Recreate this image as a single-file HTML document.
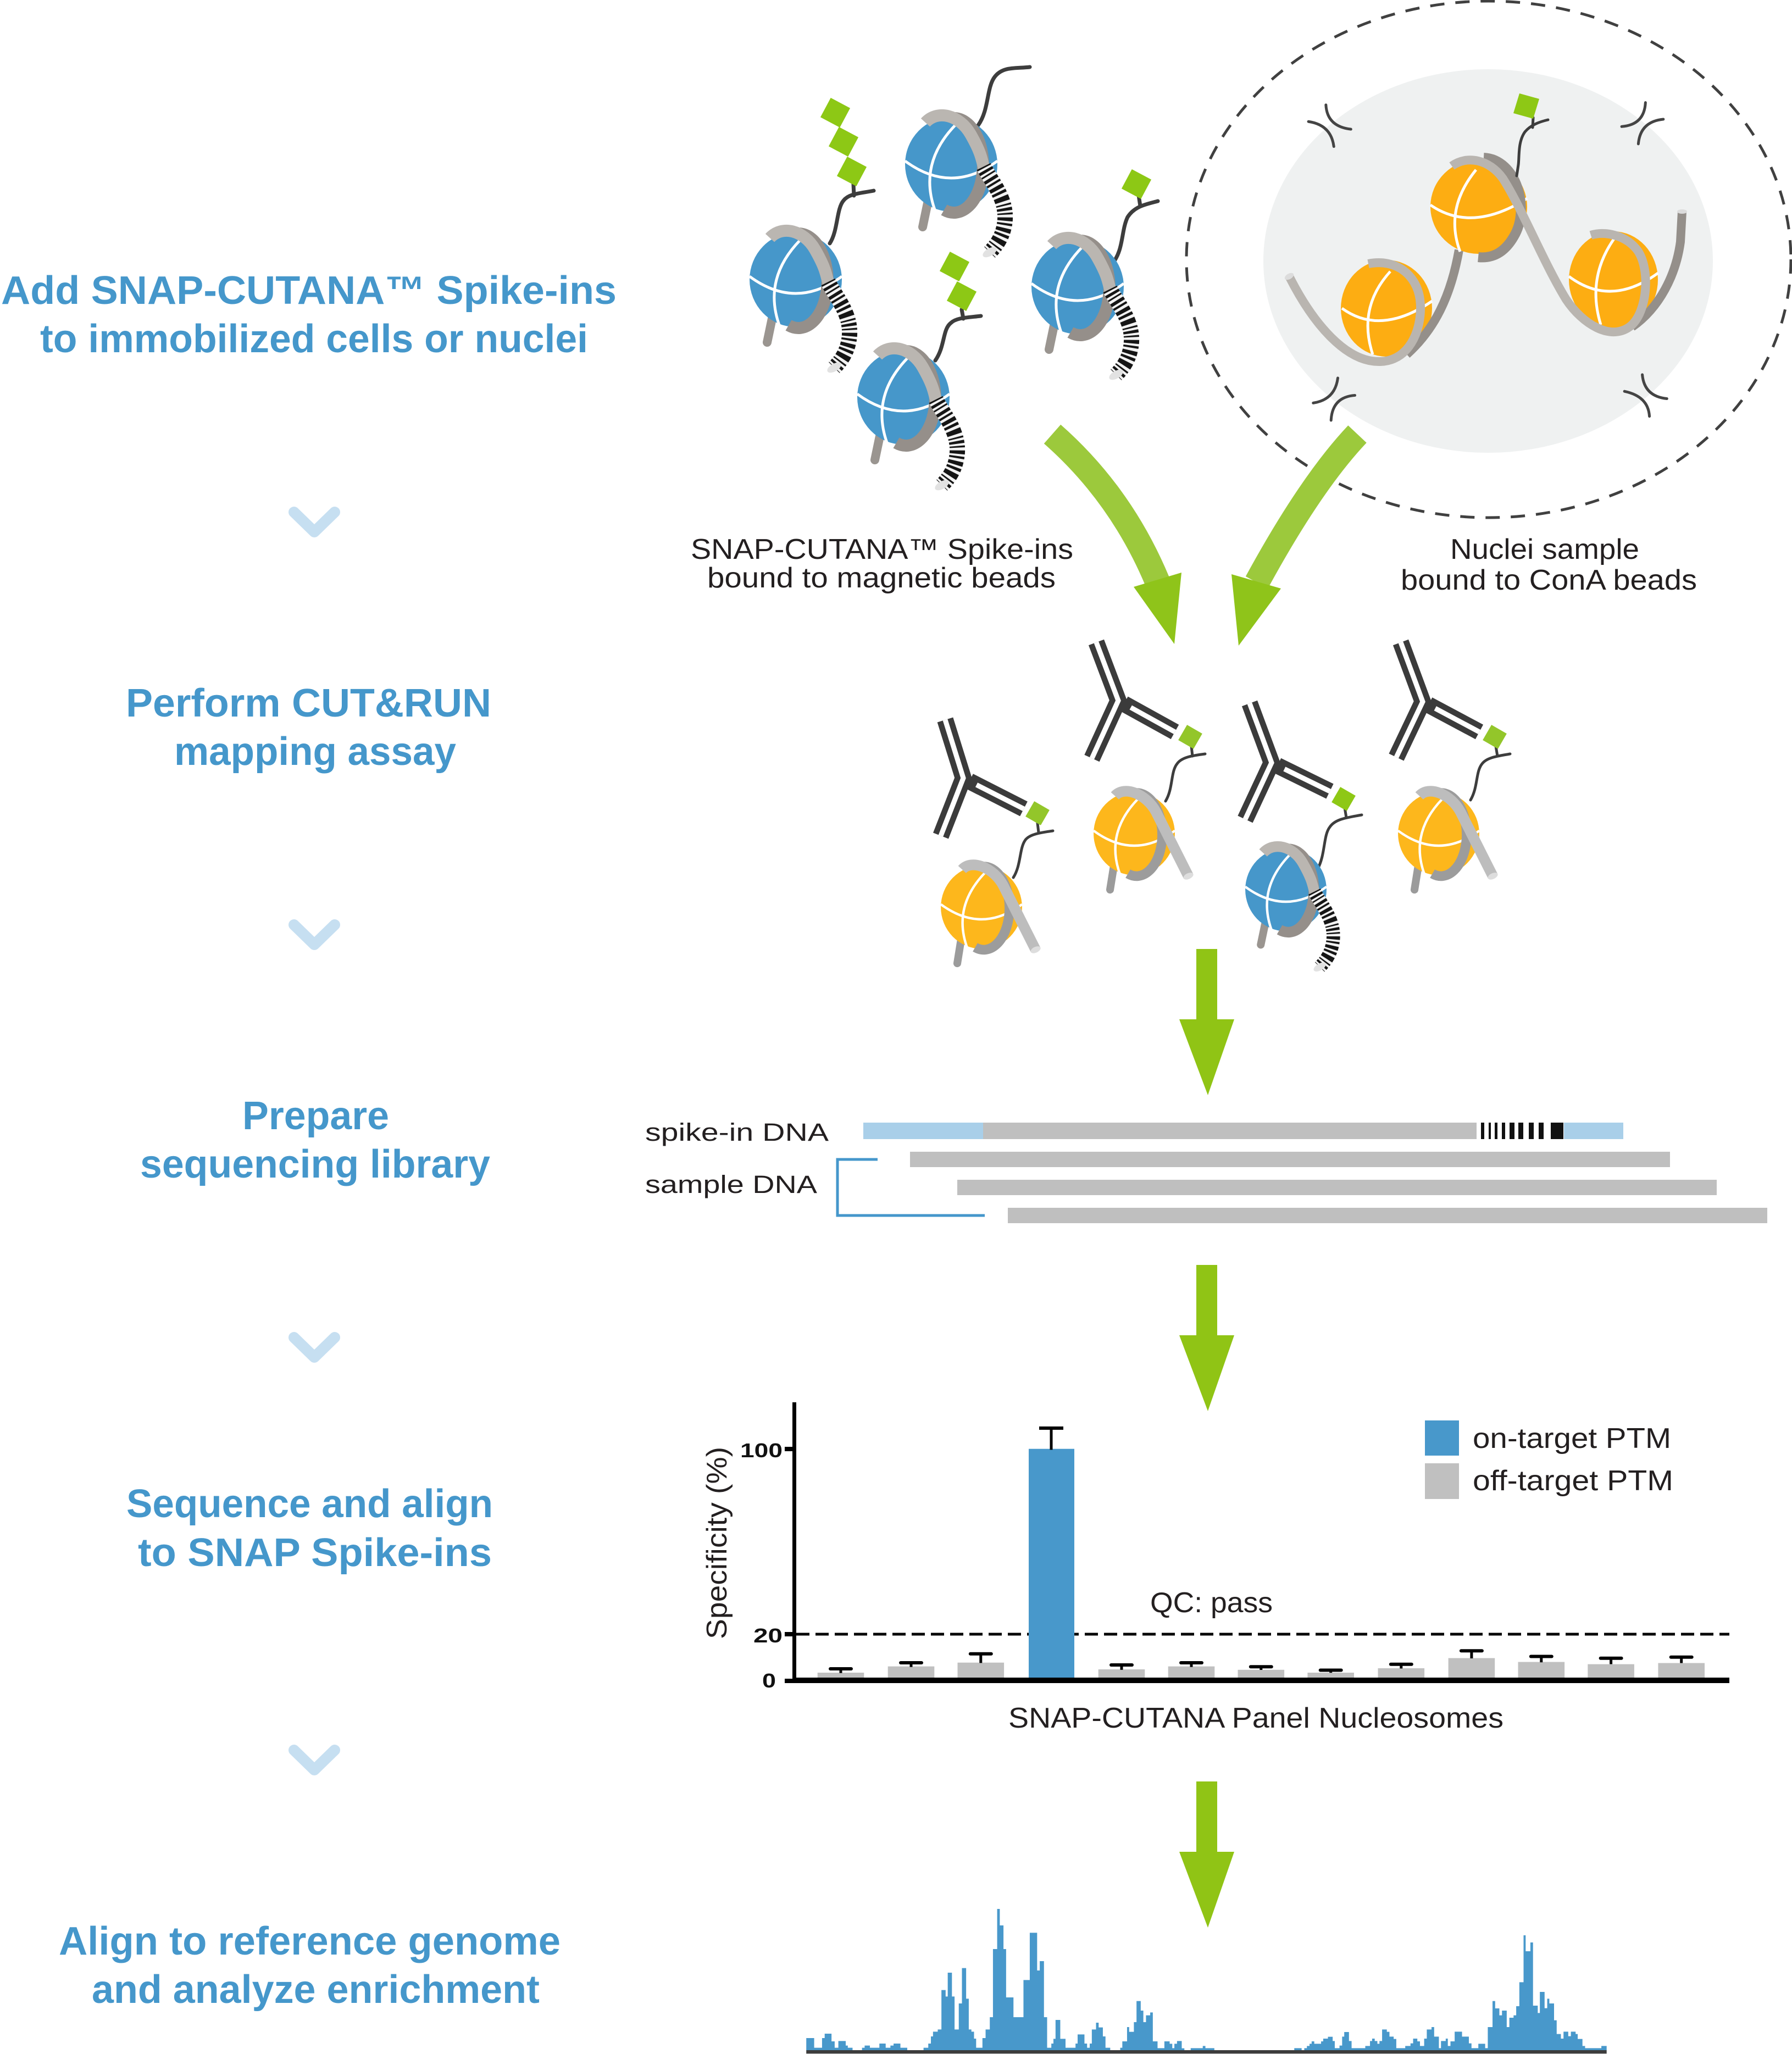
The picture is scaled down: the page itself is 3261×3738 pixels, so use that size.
<!DOCTYPE html>
<html>
<head>
<meta charset="utf-8">
<style>
html,body{margin:0;padding:0;background:#ffffff;}
svg{display:block;}
.h{font-family:"Liberation Sans",Arial,sans-serif;font-weight:bold;font-size:72px;fill:#4597cb;}
.t{font-family:"Liberation Sans",Arial,sans-serif;font-size:52px;fill:#231f20;}
.d{font-family:"Liberation Sans",Arial,sans-serif;font-size:45px;fill:#231f20;}
.ax{font-family:"Liberation Sans",Arial,sans-serif;font-weight:bold;font-size:36px;fill:#111;}
.ab{stroke:#3b3b3b;stroke-width:30;fill:none;}
.abw{stroke:#ffffff;stroke-width:9;fill:none;}
.tl{stroke:#3d3d3d;stroke-width:7;fill:none;stroke-linecap:round;}
.tl2{stroke:#3d3d3d;stroke-width:5;fill:none;stroke-linecap:round;}
.wl{stroke:#ffffff;stroke-width:5;fill:none;}
</style>
</head>
<body>
<svg width="3261" height="3738" viewBox="0 0 3261 3738" xmlns="http://www.w3.org/2000/svg">
<defs>
  <g id="nb">
    <path d="M-42,66 L-52,114" stroke="#9a9590" stroke-width="16" stroke-linecap="round" fill="none"/>
    <ellipse cx="0" cy="0" rx="84" ry="86" fill="#4697ca"/>
    <path d="M-84,-6 Q0,56 84,-6" class="wl"/>
    <path d="M8,-72 Q-62,0 -28,88" class="wl"/>
    <path d="M5,-84 A53 86 0 1 1 -13,83" stroke="#958f8a" stroke-width="22" fill="none"/>
    <path d="M-47,-76 C-25,-100 15,-90 35,-55 S55,-10 60,8" stroke="#bab6b1" stroke-width="22" fill="none"/>
    <path d="M59,4 C72,30 100,60 98,100 C96,130 82,148 70,160" stroke="#f2f2f2" stroke-width="28" fill="none"/>
    <path d="M59,4 C72,30 100,60 98,100 C96,130 82,148 70,160" stroke="#151515" stroke-width="28" fill="none" stroke-dasharray="3 4 5 4 3 5 6 4 4 5 7 4 5 5 9 5"/>
    <ellipse cx="70" cy="160" rx="14" ry="7" fill="#e2e2e2" transform="rotate(-30 70 160)"/>
  </g>
  <g id="no">
    <path d="M-42,66 L-50,116" stroke="#9b9b9b" stroke-width="16" stroke-linecap="round" fill="none"/>
    <ellipse cx="0" cy="0" rx="84" ry="86" fill="#fdb71c"/>
    <path d="M-84,-6 Q0,56 84,-6" class="wl"/>
    <path d="M8,-72 Q-62,0 -28,88" class="wl"/>
    <path d="M5,-84 A53 86 0 1 1 -13,83" stroke="#9c9c9c" stroke-width="20" fill="none"/>
    <path d="M-40,-78 C-20,-100 25,-82 45,-45 L112,88" stroke="#bdbdbd" stroke-width="22" fill="none"/>
    <ellipse cx="112" cy="88" rx="11" ry="6" fill="#dddddd" transform="rotate(-25 112 88)"/>
  </g>
</defs>

<!-- ===== LEFT COLUMN HEADINGS ===== -->
<text class="h" x="2" y="553" textLength="1120" lengthAdjust="spacingAndGlyphs">Add SNAP-CUTANA™ Spike-ins</text>
<text class="h" x="73" y="641" textLength="997" lengthAdjust="spacingAndGlyphs">to immobilized cells or nuclei</text>

<text class="h" x="229" y="1304" textLength="665" lengthAdjust="spacingAndGlyphs">Perform CUT&amp;RUN</text>
<text class="h" x="317" y="1392" textLength="513" lengthAdjust="spacingAndGlyphs">mapping assay</text>

<text class="h" x="441" y="2055" textLength="267" lengthAdjust="spacingAndGlyphs">Prepare</text>
<text class="h" x="255" y="2143" textLength="637" lengthAdjust="spacingAndGlyphs">sequencing library</text>

<text class="h" x="230" y="2761" textLength="667" lengthAdjust="spacingAndGlyphs">Sequence and align</text>
<text class="h" x="251" y="2850" textLength="644" lengthAdjust="spacingAndGlyphs">to SNAP Spike-ins</text>

<text class="h" x="107" y="3557" textLength="913" lengthAdjust="spacingAndGlyphs">Align to reference genome</text>
<text class="h" x="167" y="3645" textLength="815" lengthAdjust="spacingAndGlyphs">and analyze enrichment</text>

<!-- chevrons -->
<g stroke="#c6dff1" stroke-width="20" stroke-linecap="round" stroke-linejoin="round" fill="none">
  <polyline points="535,932 572,968 609,932"/>
  <polyline points="535,1683 572,1719 609,1683"/>
  <polyline points="535,2434 572,2470 609,2434"/>
  <polyline points="535,3185 572,3221 609,3185"/>
</g>

<!-- ===== NUCLEI SAMPLE (dashed ellipse) ===== -->
<ellipse cx="2708" cy="475" rx="409" ry="349" fill="#eff1f1"/>
<ellipse cx="2709" cy="472" rx="550" ry="470" fill="none" stroke="#404040" stroke-width="5" stroke-dasharray="26 20"/>

<!-- bracket marks -->
<g transform="translate(2130,0) scale(0.7215,0.6061)" fill="none" stroke="#444" stroke-width="5" stroke-linecap="round">
  <path d="M348,365 Q405,375 412,440" vector-effect="non-scaling-stroke"/>
  <path d="M392,315 Q395,380 455,388" vector-effect="non-scaling-stroke"/>
  <path d="M1198,308 Q1195,375 1138,380" vector-effect="non-scaling-stroke"/>
  <path d="M1243,358 Q1185,365 1180,432" vector-effect="non-scaling-stroke"/>
  <path d="M360,1210 Q415,1200 422,1135" vector-effect="non-scaling-stroke"/>
  <path d="M465,1187 Q408,1192 405,1262" vector-effect="non-scaling-stroke"/>
  <path d="M1145,1175 Q1205,1190 1208,1250" vector-effect="non-scaling-stroke"/>
  <path d="M1190,1125 Q1195,1190 1252,1197" vector-effect="non-scaling-stroke"/>
</g>

<!-- left orange nucleosome -->
<ellipse cx="2523" cy="561" rx="83" ry="88" fill="#fdad12"/>
<path d="M2442,561 Q2512,612 2606,548" class="wl"/>
<path d="M2530,494 Q2470,560 2498,645" class="wl"/>
<!-- dark band left->middle -->
<path d="M2560,645 C2610,600 2640,540 2655,455" stroke="#948f8a" stroke-width="16" fill="none"/>
<!-- middle nucleosome -->
<ellipse cx="2691" cy="376" rx="88" ry="86" fill="#fdad12"/>
<path d="M2603,373 Q2678,425 2779,361" class="wl"/>
<path d="M2686,309 Q2628,380 2657,458" class="wl"/>
<path d="M2700,287 C2760,290 2785,380 2755,430 C2735,465 2710,470 2690,468" stroke="#948f8a" stroke-width="18" fill="none"/>
<!-- right nucleosome -->
<ellipse cx="2936" cy="509" rx="81" ry="88" fill="#fdad12"/>
<path d="M2855,503 Q2931,560 3017,497" class="wl"/>
<path d="M2945,424 Q2885,500 2913,591" class="wl"/>
<path d="M2970,595 C3020,560 3050,500 3058,440 L3061,385" stroke="#948f8a" stroke-width="16" fill="none"/>
<ellipse cx="3061" cy="385" rx="9" ry="4" fill="#dcdcdc"/>
<!-- light ribbons -->
<path d="M2346,503 C2390,590 2450,660 2512,658 C2570,656 2590,590 2584,545 C2578,500 2540,470 2490,480" stroke="#b9b5b0" stroke-width="16" fill="none"/>
<ellipse cx="2346" cy="503" rx="9" ry="5" fill="#dcdcdc" transform="rotate(-30 2346 503)"/>
<path d="M2642,302 C2670,282 2710,290 2735,325 C2770,380 2810,480 2850,545 C2880,590 2930,620 2965,595 C3000,570 3005,480 2975,450 C2955,428 2920,420 2895,428" stroke="#b9b5b0" stroke-width="16" fill="none"/>
<!-- tag on middle -->
<path d="M2817,218 C2800,222 2785,228 2775,240 C2762,258 2765,285 2763,300 L2760,320" class="tl2"/>
<path d="M2790,214 L2789,232" class="tl2"/>
<polygon points="2765,170 2801,180 2790,216 2754,206" fill="#8ec815"/>

<!-- ===== TOP BLUE SPIKE-IN NUCLEOSOMES ===== -->
<path d="M1510,443 C1525,420 1522,380 1535,365 C1545,352 1565,352 1590,347" class="tl"/>
<path d="M1554,356 L1553,335" class="tl"/>
<path d="M1780,228 C1800,200 1795,160 1810,140 C1825,120 1850,125 1874,122" class="tl"/>
<path d="M1702,656 C1720,630 1715,600 1730,588 C1740,578 1760,578 1785,575" class="tl"/>
<path d="M1753,580 L1750,563" class="tl"/>
<path d="M2024,480 C2045,455 2040,420 2052,395 C2065,375 2085,372 2107,366" class="tl"/>
<path d="M2075,375 L2072,355" class="tl"/>
<g fill="#8dc815">
  <rect x="-20" y="-20" width="40" height="40" transform="translate(1520,205) rotate(28)"/>
  <rect x="-20" y="-20" width="40" height="40" transform="translate(1535,258) rotate(28)"/>
  <rect x="-20" y="-20" width="40" height="40" transform="translate(1550,312) rotate(28)"/>
  <rect x="-20" y="-20" width="40" height="40" transform="translate(1737,485) rotate(28)"/>
  <rect x="-20" y="-20" width="40" height="40" transform="translate(1750,539) rotate(28)"/>
  <rect x="-20" y="-20" width="40" height="40" transform="translate(2068,335) rotate(28)"/>
</g>
<use href="#nb" transform="translate(1731,299)"/>
<use href="#nb" transform="translate(1448,509)"/>
<use href="#nb" transform="translate(1961,522)"/>
<use href="#nb" transform="translate(1644,723)"/>

<!-- labels -->
<text class="t" x="1257" y="1017" textLength="696" lengthAdjust="spacingAndGlyphs">SNAP-CUTANA™ Spike-ins</text>
<text class="t" x="1287" y="1069" textLength="634" lengthAdjust="spacingAndGlyphs">bound to magnetic beads</text>
<text class="t" x="2639" y="1017" textLength="344" lengthAdjust="spacingAndGlyphs">Nuclei sample</text>
<text class="t" x="2549" y="1073" textLength="539" lengthAdjust="spacingAndGlyphs">bound to ConA beads</text>

<!-- curved green arrows -->
<path d="M1915,790 Q2040,900 2106,1058" stroke="#9cc93c" stroke-width="46" fill="none"/>
<polygon points="2063,1068 2150,1042 2137,1172" fill="#8fc41a"/>
<path d="M2470,790 Q2385,880 2287,1060" stroke="#9cc93c" stroke-width="46" fill="none"/>
<polygon points="2241,1045 2331,1071 2254,1175" fill="#8fc41a"/>

<!-- ===== ANTIBODY ROW ===== -->
<polyline points="1720,1310 1753,1416 1712,1521" class="ab"/>
<line x1="1764" y1="1421.6" x2="1863" y2="1472" class="ab"/>
<polyline points="1720,1310 1753,1416 1712,1521" class="abw"/>
<line x1="1777" y1="1428.3" x2="1863" y2="1472" class="abw"/>

<polyline points="1995,1169 2035,1275 1987,1380" class="ab"/>
<line x1="2045.3" y1="1280.7" x2="2138" y2="1332" class="ab"/>
<polyline points="1995,1169 2035,1275 1987,1380" class="abw"/>
<line x1="2057.7" y1="1287.5" x2="2138" y2="1332" class="abw"/>

<polyline points="2274,1280 2314,1388 2266,1491" class="ab"/>
<line x1="2324.6" y1="1393.2" x2="2420" y2="1440" class="ab"/>
<polyline points="2274,1280 2314,1388 2266,1491" class="abw"/>
<line x1="2337.3" y1="1399.4" x2="2420" y2="1440" class="abw"/>

<polyline points="2549,1169 2589,1277 2541,1378" class="ab"/>
<line x1="2599.3" y1="1282.5" x2="2692" y2="1332" class="ab"/>
<polyline points="2549,1169 2589,1277 2541,1378" class="abw"/>
<line x1="2611.7" y1="1289.1" x2="2692" y2="1332" class="abw"/>

<path d="M1844,1597 C1858,1575 1855,1545 1865,1530 C1872,1518 1895,1515 1916,1512" class="tl2"/>
<path d="M1890,1515 L1888,1498" class="tl2"/>
<path d="M2121,1458 C2135,1435 2130,1405 2142,1390 C2150,1378 2170,1375 2193,1372" class="tl2"/>
<path d="M2170,1376 L2168,1358" class="tl2"/>
<path d="M2398,1581 C2412,1555 2408,1520 2420,1505 C2430,1490 2452,1488 2478,1483" class="tl2"/>
<path d="M2450,1488 L2447,1470" class="tl2"/>
<path d="M2676,1456 C2690,1432 2685,1405 2697,1390 C2706,1378 2726,1376 2748,1372" class="tl2"/>
<path d="M2725,1376 L2722,1358" class="tl2"/>
<g fill="#93c62a">
  <rect x="-16" y="-16" width="32" height="32" transform="translate(1888,1480) rotate(30)"/>
  <rect x="-16" y="-16" width="32" height="32" transform="translate(2166,1341) rotate(30)"/>
  <rect x="-16" y="-16" width="32" height="32" transform="translate(2445,1454) rotate(30)" fill="#8ec815"/>
  <rect x="-16" y="-16" width="32" height="32" transform="translate(2720,1341) rotate(30)"/>
</g>
<use href="#no" transform="translate(1786,1651) scale(0.88)"/>
<use href="#no" transform="translate(2064,1517) scale(0.88)"/>
<use href="#nb" transform="translate(2340,1619) scale(0.88)"/>
<use href="#no" transform="translate(2618,1517) scale(0.88)"/>

<!-- down arrows -->
<polygon points="2177,1727 2215,1727 2215,1855 2246,1855 2198,1993 2146,1855 2177,1855" fill="#90c415"/>
<polygon points="2177,2302 2215,2302 2215,2430 2246,2430 2198,2568 2146,2430 2177,2430" fill="#90c415"/>
<polygon points="2177,3242 2215,3242 2215,3370 2246,3370 2198,3508 2146,3370 2177,3370" fill="#90c415"/>

<!-- ===== SEQUENCING LIBRARY ===== -->
<text class="d" x="1174" y="2076" textLength="334" lengthAdjust="spacingAndGlyphs">spike-in DNA</text>
<text class="d" x="1174" y="2171" textLength="313" lengthAdjust="spacingAndGlyphs">sample DNA</text>
<rect x="1571" y="2043" width="218" height="30" fill="#a9cfe9"/>
<rect x="1789" y="2043" width="898" height="30" fill="#bfbfbf"/>
<rect x="2846" y="2043" width="108" height="30" fill="#a9cfe9"/>
<g fill="#111">
  <rect x="2695" y="2043" width="6" height="30"/>
  <rect x="2709" y="2043" width="4" height="30"/>
  <rect x="2720" y="2043" width="5" height="30"/>
  <rect x="2733" y="2043" width="6" height="30"/>
  <rect x="2747" y="2043" width="9" height="30"/>
  <rect x="2763" y="2043" width="9" height="30"/>
  <rect x="2782" y="2043" width="9" height="30"/>
  <rect x="2800" y="2043" width="9" height="30"/>
  <rect x="2822" y="2043" width="23" height="30"/>
</g>
<rect x="1656" y="2096" width="1383" height="28" fill="#bfbfbf"/>
<rect x="1742" y="2147" width="1382" height="28" fill="#bfbfbf"/>
<rect x="1834" y="2198" width="1382" height="28" fill="#bfbfbf"/>
<path d="M1597,2110 H1524 V2212 H1792" stroke="#4597cb" stroke-width="5" fill="none"/>

<!-- ===== CHART ===== -->
<line x1="1449" y1="2974" x2="3147" y2="2974" stroke="#000" stroke-width="5" stroke-dasharray="24 11"/>
<rect x="1442" y="2552" width="7" height="511" fill="#000"/>
<rect x="1428" y="2633" width="20" height="8" fill="#000"/>
<rect x="1428" y="2970" width="20" height="8" fill="#000"/>
<rect x="1428" y="3055" width="20" height="8" fill="#000"/>
<g fill="#c0c0c0">
  <rect x="1487.7" y="3044" width="84.6" height="10"/>
  <rect x="1615.7" y="3032.6" width="84.6" height="21.4"/>
  <rect x="1742.5" y="3025.7" width="84.6" height="28.3"/>
  <rect x="1998.7" y="3038" width="84.6" height="16"/>
  <rect x="2125.7" y="3032.6" width="84.6" height="21.4"/>
  <rect x="2252.5" y="3038.8" width="84.6" height="15.2"/>
  <rect x="2379.4" y="3044" width="84.6" height="10"/>
  <rect x="2507.5" y="3036" width="84.6" height="18"/>
  <rect x="2635.6" y="3017.5" width="84.6" height="36.5"/>
  <rect x="2762.5" y="3024.5" width="84.6" height="29.5"/>
  <rect x="2889.3" y="3028.6" width="84.6" height="25.4"/>
  <rect x="3017.4" y="3026.5" width="84.6" height="27.5"/>
</g>
<rect x="1872" y="2636.7" width="83" height="417.3" fill="#4898cb"/>
<g fill="#000">
  <rect x="1527.5" y="3036.7" width="5" height="8"/><rect x="1508" y="3034" width="44" height="6" rx="3"/>
  <rect x="1655.5" y="3025.7" width="5" height="8"/><rect x="1636" y="3023" width="44" height="6" rx="3"/>
  <rect x="1782.3" y="3009.4" width="5" height="17"/><rect x="1762.8" y="3006.7" width="44" height="6" rx="3"/>
  <rect x="1910.5" y="2598.4" width="5" height="40"/><rect x="1891" y="2596" width="44" height="6"/>
  <rect x="2038.5" y="3029.8" width="5" height="9"/><rect x="2019" y="3027" width="44" height="6" rx="3"/>
  <rect x="2165.5" y="3025.7" width="5" height="8"/><rect x="2146" y="3023" width="44" height="6" rx="3"/>
  <rect x="2292.3" y="3033" width="5" height="6"/><rect x="2272.8" y="3030.3" width="44" height="6" rx="3"/>
  <rect x="2419.2" y="3039.2" width="5" height="5"/><rect x="2399.7" y="3036.5" width="44" height="6" rx="3"/>
  <rect x="2547.3" y="3028.4" width="5" height="8"/><rect x="2527.8" y="3025.7" width="44" height="6" rx="3"/>
  <rect x="2675.4" y="3004" width="5" height="14"/><rect x="2655.9" y="3001.3" width="44" height="6" rx="3"/>
  <rect x="2802.3" y="3014.2" width="5" height="11"/><rect x="2782.8" y="3011.5" width="44" height="6" rx="3"/>
  <rect x="2929.1" y="3017.5" width="5" height="11"/><rect x="2909.6" y="3014.8" width="44" height="6" rx="3"/>
  <rect x="3057.2" y="3015.5" width="5" height="11"/><rect x="3037.7" y="3012.8" width="44" height="6" rx="3"/>
</g>
<rect x="1442" y="3053" width="1705" height="10" fill="#000"/>
<text class="ax" x="1347" y="2652" textLength="77" lengthAdjust="spacingAndGlyphs">100</text>
<text class="ax" x="1371" y="2989" textLength="53" lengthAdjust="spacingAndGlyphs">20</text>
<text class="ax" x="1387" y="3071" textLength="25" lengthAdjust="spacingAndGlyphs">0</text>
<text class="t" font-size="48" text-anchor="middle" transform="translate(1322,2808) rotate(-90)" textLength="350" lengthAdjust="spacingAndGlyphs">Specificity (%)</text>
<rect x="2593" y="2585" width="62" height="64" fill="#4898cb"/>
<rect x="2593" y="2663" width="62" height="65" fill="#c0c0c0"/>
<text class="t" x="2680" y="2635" textLength="361" lengthAdjust="spacingAndGlyphs">on-target PTM</text>
<text class="t" x="2680" y="2712" textLength="365" lengthAdjust="spacingAndGlyphs">off-target PTM</text>
<text class="t" x="2093" y="2934" textLength="223" lengthAdjust="spacingAndGlyphs">QC: pass</text>
<text class="t" x="1835" y="3144" textLength="901" lengthAdjust="spacingAndGlyphs">SNAP-CUTANA Panel Nucleosomes</text>

<!-- ===== GENOME TRACK ===== -->
<g transform="translate(1450,3450) scale(0.95694,0.33333)">
<path fill="#4898cb" d="M18,843 V777 H33 V830 H48 V777 H53 V753 H66 V795 H72 V830 H79 V793 H93 V818 H97 V830 H106 V843 H124 V830 H129 V818 H139 V830 H157 V807 H169 V830 H178 V818 H184 V807 H197 V830 H210 V843 H241 V830 H250 V807 H255 V768 H259 V742 H268 V730 H275 V515 H283 V550 H287 V420 H295 V550 H300 V730 H308 V588 H314 V395 H322 V562 H327 V730 H332 V742 H337 V780 H341 V830 H353 V777 H359 V730 H367 V663 H373 V291 H381 V72 H386 V162 H393 V291 H398 V555 H412 V663 H431 V460 H443 V202 H457 V408 H462 V357 H470 V663 H476 V830 H484 V807 H488 V781 H492 V678 H501 V781 H511 V830 H530 V807 H534 V757 H547 V807 H552 V830 H557 V807 H561 V730 H569 V693 H574 V719 H582 V768 H587 V830 H596 V843 H615 V830 H619 V795 H628 V717 H632 V743 H641 V690 H646 V575 H654 V627 H659 V690 H664 V653 H672 V637 H677 V795 H686 V832 H699 V795 H709 V808 H714 V832 H718 V808 H723 V793 H732 V833 H737 V843 H749 V832 H772 V820 H777 V832 H794 V843 H946 V832 H960 V843 H965 V832 H970 V820 H975 V808 H979 V795 H984 V808 H997 V795 H1001 V780 H1010 V770 H1019 V793 H1023 V832 H1032 V818 H1037 V769 H1041 V744 H1050 V793 H1055 V832 H1081 V820 H1090 V793 H1094 V780 H1099 V793 H1104 V808 H1108 V793 H1113 V730 H1122 V743 H1127 V769 H1135 V782 H1140 V832 H1157 V820 H1167 V806 H1172 V780 H1180 V795 H1185 V820 H1193 V780 H1198 V730 H1207 V717 H1212 V769 H1221 V832 H1225 V793 H1234 V780 H1238 V820 H1243 V795 H1251 V742 H1265 V769 H1278 V806 H1283 V832 H1296 V808 H1309 V832 H1314 V717 H1323 V575 H1328 V615 H1336 V653 H1341 V627 H1350 V717 H1355 V666 H1363 V653 H1368 V603 H1374 V472 H1382 V216 H1386 V303 H1395 V255 H1400 V600 H1409 V640 H1413 V525 H1422 V614 H1427 V562 H1431 V588 H1440 V680 H1445 V755 H1453 V780 H1458 V742 H1467 V767 H1472 V742 H1481 V755 H1485 V782 H1494 V820 H1499 V832 H1530 V820 H1540 V843 Z"/>
<rect x="18" y="843" width="1522" height="19" fill="#3c3c3c"/>
</g>

</svg>
</body>
</html>
